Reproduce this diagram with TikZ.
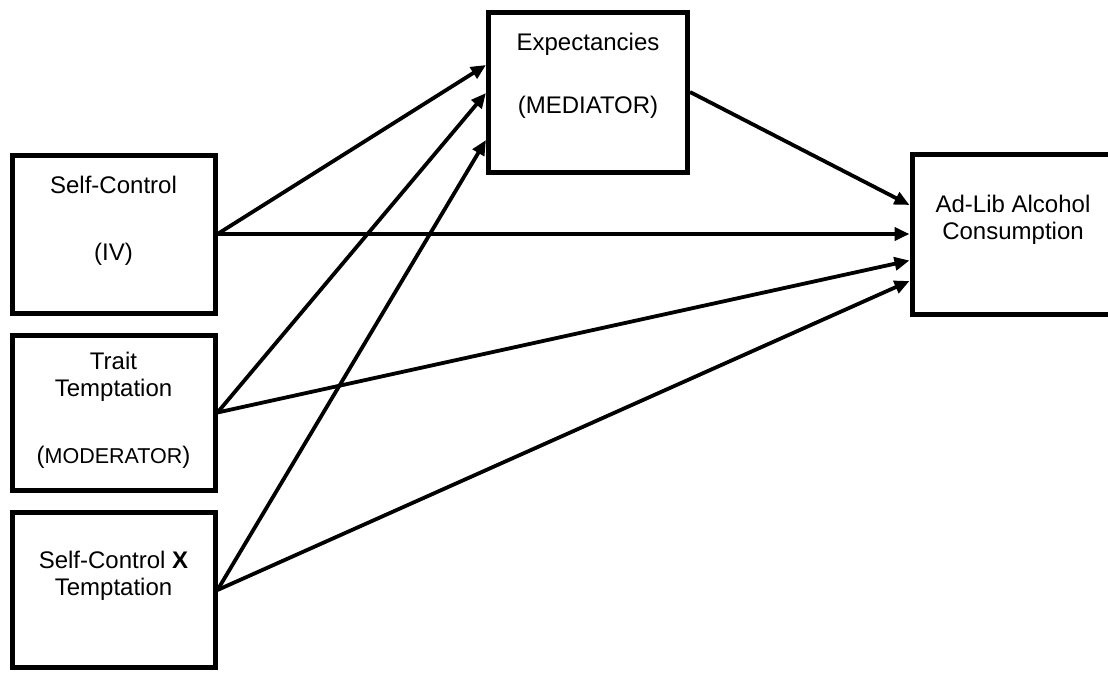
\documentclass[tikz,border=0pt]{standalone}
\usepackage{fontspec}
\setmainfont{Liberation Sans}
\usetikzlibrary{positioning}
\usetikzlibrary{arrows.meta}

\tikzset{
  box/.style={draw, line width=5pt, inner sep=0pt},
  boxtext/.style={align=center, inner sep=0pt, anchor=north, font={\fontsize{24}{27}\selectfont}},
  arr/.style={-{Triangle[length=15pt,width=13pt]}, line width=3.8pt}
}

\begin{document}
\begin{tikzpicture}[x=1pt, y=-1pt]
\useasboundingbox (0,0) rectangle (1108,672);

% boxes on the left
\node[box, minimum width=203pt, minimum height=158pt] (selfc) at (113.5, 234) {};
\node[box, minimum width=203pt, minimum height=155pt] (trait) at (113.5, 412.5) {};
\node[box, minimum width=203pt, minimum height=155pt] (inter) at (113.5, 590) {};

% mediator and outcome
\node[box, minimum width=199pt, minimum height=160pt] (expect) at (588, 92) {};
\node[box, minimum width=202pt, minimum height=160pt] (alcohol) at (1013, 234.5) {};

% texts
\node[boxtext, below=23pt of selfc.north] (selfctext) {Self-Control\\[40pt](IV)};
\node[boxtext, below=19pt of trait.north] (traittext) {Trait\\Temptation\\[40pt]({\fontsize{21.5}{27}\selectfont MODERATOR})};
\node[boxtext, below=41pt of inter.north] (intertext) {Self-Control \textbf{X}\\Temptation};
\node[boxtext, below=23pt of expect.north] (expecttext) {Expectancies\\[36pt](MEDIATOR)};
\node[boxtext, below=43pt of alcohol.north] (alcoholtext) {Ad-Lib Alcohol\\Consumption};

% paths to the mediator
\path[arr] (selfc.east) edge ([yshift=27pt]expect.west);
\path[arr] (trait.east) edge ([yshift=-1pt]expect.west);
\path[arr] (inter.east) edge ([yshift=-48pt]expect.west);

% paths to the outcome
\path[arr] (expect.east) edge ([yshift=29.5pt]alcohol.west);
\path[arr] (selfc.east) edge (selfc.east -| alcohol.west);
\path[arr] (trait.east) edge ([yshift=-26pt]alcohol.west);
\path[arr] (inter.east) edge ([yshift=-46.5pt]alcohol.west);

\end{tikzpicture}
\end{document}
